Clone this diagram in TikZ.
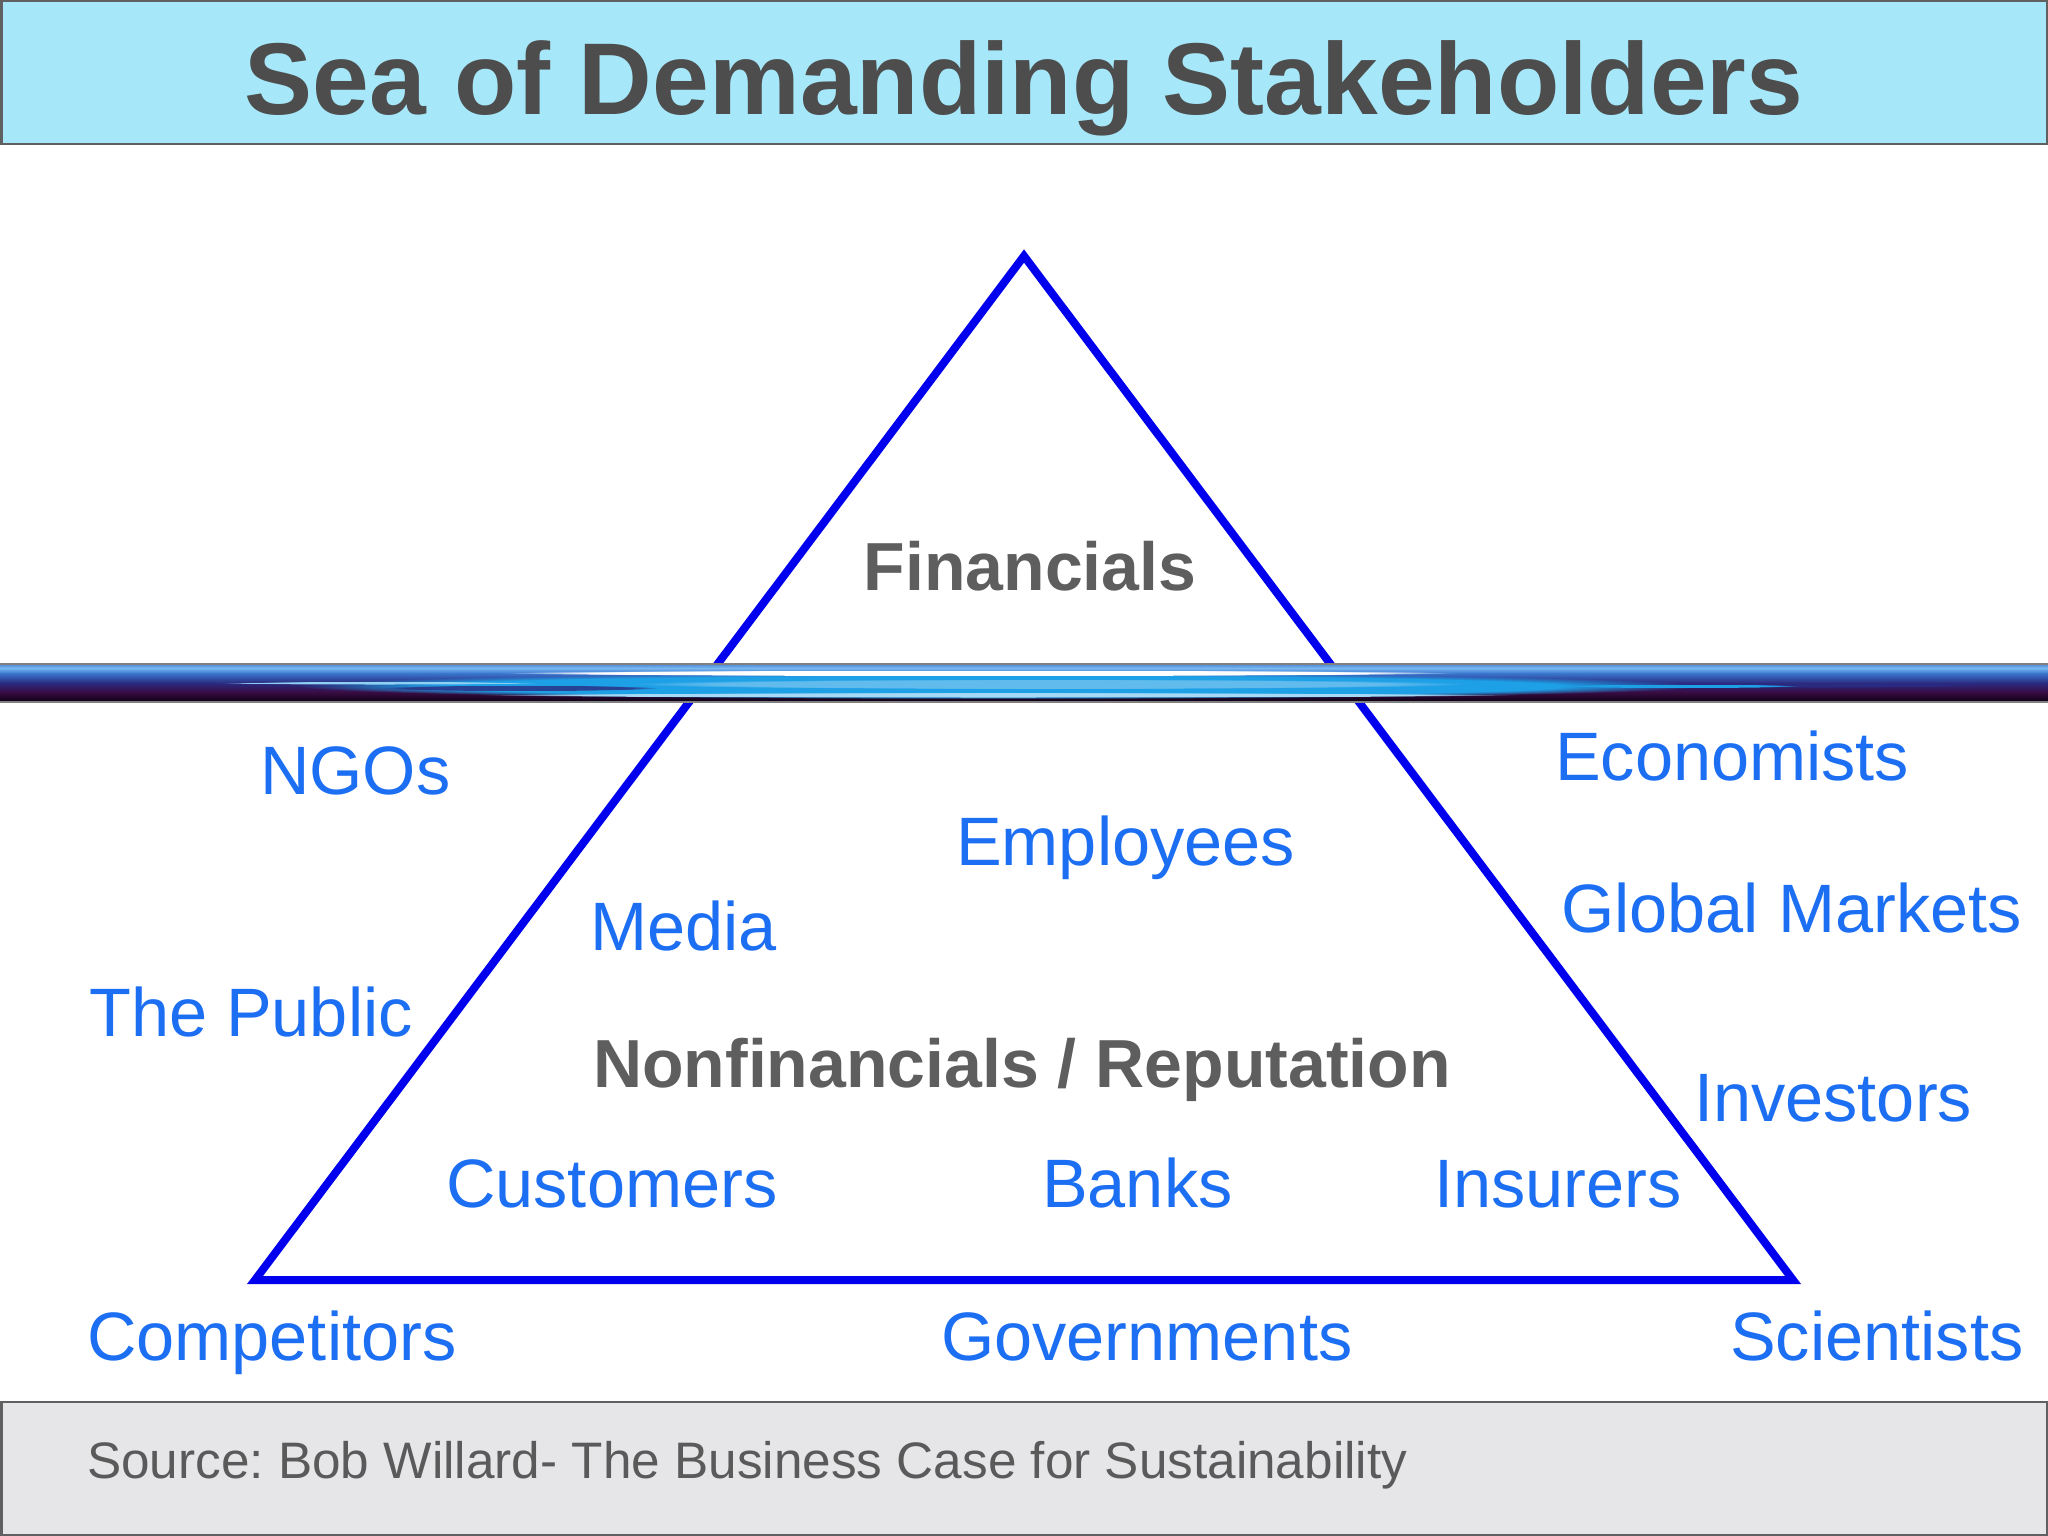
\documentclass[tikz,border=0pt]{standalone}
\usepackage{fontspec}
\setmainfont{Liberation Sans}
\usetikzlibrary{fadings}
\definecolor{titlebg}{HTML}{A6E8FA}
\definecolor{titlefg}{HTML}{4D4D4D}
\definecolor{framegray}{HTML}{606060}
\definecolor{footbg}{HTML}{E6E5E8}
\definecolor{footfg}{HTML}{5A5A5A}
\definecolor{labelblue}{HTML}{1C6EF2}
\definecolor{tri}{HTML}{0000EE}
\definecolor{darkgray}{HTML}{5E5E5E}
\definecolor{seaA}{HTML}{4E88D8}
\definecolor{seaB}{HTML}{7AB8F0}
\definecolor{seaC}{HTML}{3A78D0}
\definecolor{seaD}{HTML}{2A2A80}
\definecolor{seaE}{HTML}{3A0C44}
\definecolor{seaF}{HTML}{0A0010}
\definecolor{seacyan}{HTML}{1EA0E6}
\tikzset{
  lbl/.style={anchor=base west, inner sep=0pt, text=labelblue, font=\fontsize{68.5}{80}\selectfont},
  keylbl/.style={anchor=base west, inner sep=0pt, text=darkgray, font=\fontsize{68}{80}\selectfont\bfseries},
  tribox/.style={draw=tri, line width=8pt, line join=miter},
  glow/.style={path fading=circle with fuzzy edge 20 percent}
}
\begin{document}
\begin{tikzpicture}[x=1pt,y=-1pt]
\useasboundingbox (0,0) rectangle (2048,1536);
\fill[white] (0,0) rectangle (2048,1536);
% title bar
\draw[fill=titlebg, draw=framegray, line width=2.5pt] (1.25,1.25) rectangle (2046.75,144);
\node[anchor=base, inner sep=0pt, text=titlefg, font=\fontsize{102}{120}\selectfont\bfseries] (title) at (1024,115) {Sea of Demanding Stakeholders};
% footer
\draw[fill=footbg, draw=framegray, line width=2.5pt] (1.25,1402) rectangle (2046.75,1534.75);
\node[anchor=base west, inner sep=0pt, text=footfg, font=\fontsize{51.3}{60}\selectfont\frenchspacing] (source) at (87,1478) {Source: Bob Willard- The Business Case for Sustainability};
% triangle
\coordinate (apex) at (1024,256);
\coordinate (bl) at (255,1280);
\coordinate (br) at (1793,1280);
\draw[tribox] (apex) -- (bl) -- (br) -- cycle;
% sea band
\shade[top color=seaA, bottom color=seaB] (0,664) rectangle (2048,668.2);
\shade[top color=seaB, bottom color=seaC] (0,668) rectangle (2048,673.2);
\shade[top color=seaC, bottom color=seaD] (0,673) rectangle (2048,683.2);
\shade[top color=seaD, bottom color=seaE] (0,683) rectangle (2048,692.2);
\shade[top color=seaE, bottom color=seaF] (0,692) rectangle (2048,702);
\fill[seacyan, glow] (1000,686) ellipse [x radius=700, y radius=13];
\fill[seacyan!70!white, glow] (1050,684) ellipse [x radius=420, y radius=5];
\fill[white, glow] (980,673) ellipse [x radius=480, y radius=3];
\fill[seacyan!40!white, glow] (1000,695) ellipse [x radius=520, y radius=2.5];
\fill[seaD, glow, opacity=0.8] (520,688) ellipse [x radius=140, y radius=3];
\fill[seacyan!50!white, glow] (380,683) ellipse [x radius=160, y radius=1.5];
\fill[seaD, glow] (1820,685) ellipse [x radius=160, y radius=2.5];
\fill[seacyan, glow] (1680,686) ellipse [x radius=120, y radius=2];
\draw[gray, line width=2.5pt] (0,664) -- (2048,664);
\draw[gray, line width=2.5pt] (0,702) -- (2048,702);
% labels
\node[anchor=base, inner sep=0pt, text=darkgray, font=\fontsize{68}{80}\selectfont\bfseries] (fin) at (1030,590) {Financials};
\node[keylbl] (nonfin) at (593,1087) {Nonfinancials / Reputation};
\node[lbl] (ngos) at (260,794) {NGOs};
\node[lbl] (employees) at (956,865) {Employees};
\node[lbl] (economists) at (1555,780) {Economists};
\node[lbl] (media) at (590,950) {Media};
\node[lbl] (global) at (1561,932) {Global Markets};
\node[lbl] (public) at (89,1036) {The Public};
\node[lbl] (investors) at (1694,1121) {Investors};
\node[lbl] (customers) at (446,1207) {Customers};
\node[lbl] (banks) at (1042,1207) {Banks};
\node[lbl] (insurers) at (1434,1207) {Insurers};
\node[lbl] (competitors) at (87,1360) {Competitors};
\node[lbl] (governments) at (941,1360) {Governments};
\node[lbl] (scientists) at (1730,1360) {Scientists};
\end{tikzpicture}
\end{document}
